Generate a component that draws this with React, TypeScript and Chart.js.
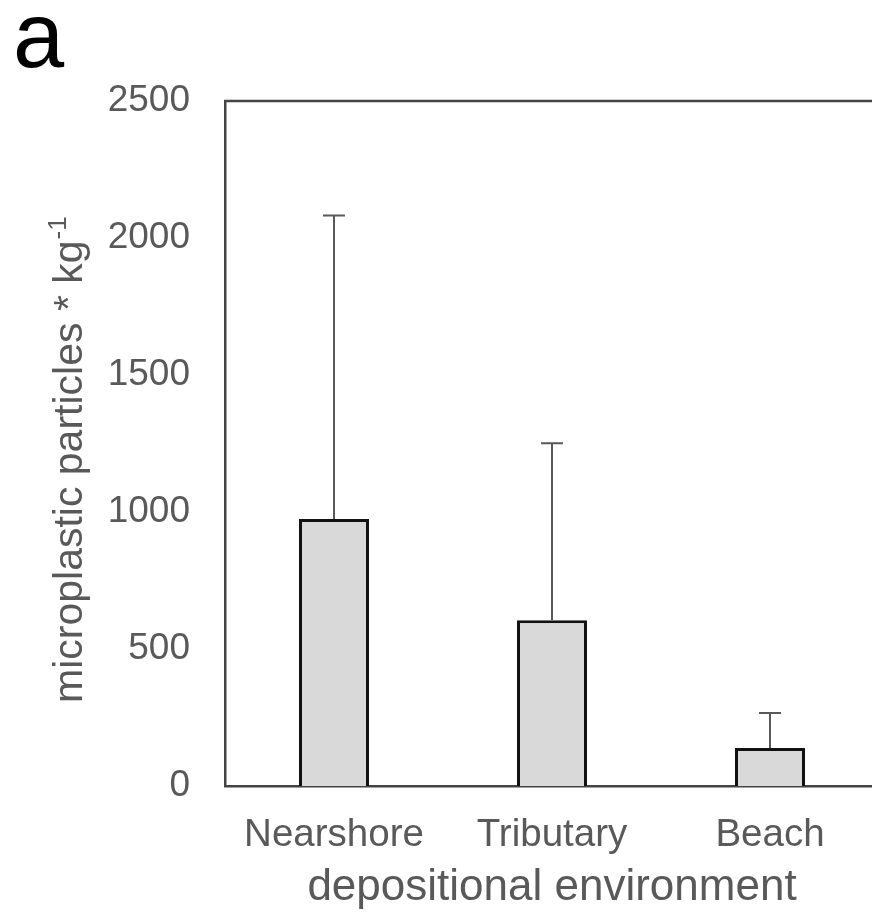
import React, { useEffect, useRef } from 'react';
import { Chart, registerables } from 'chart.js';

Chart.register(...registerables);

const categories = ['Nearshore', 'Tributary', 'Beach'];
const meanValues = [974, 605, 139];
const errorValues = [1108, 646, 127];
const yMin = 0;
const yMax = 2500;
const yStep = 500;
const panelLabel = 'a';
const xTitle = 'depositional environment';
const yTitleMain = 'microplastic particles * kg';
const yTitleSup = '-1';

const FONT = '"Liberation Sans", Arial, sans-serif';
const TEXT_GREY = '#595959';
const AXIS_GREY = '#444444';

const errorBarPlugin = {
  id: 'errorBars',
  afterDatasetsDraw(chart: any) {
    const meta = chart.getDatasetMeta(0);
    const ys = chart.scales.y;
    const ctx = chart.ctx;
    ctx.save();
    ctx.strokeStyle = TEXT_GREY;
    ctx.lineWidth = 2;
    meta.data.forEach((bar: any, i: number) => {
      const x = Math.round(bar.x);
      const y0 = ys.getPixelForValue(meanValues[i]);
      const y1 = ys.getPixelForValue(meanValues[i] + errorValues[i]);
      ctx.beginPath();
      ctx.moveTo(x, y0);
      ctx.lineTo(x, y1);
      ctx.moveTo(x - 11, y1);
      ctx.lineTo(x + 11, y1);
      ctx.stroke();
    });
    ctx.restore();
  },
};

const decorPlugin = {
  id: 'decor',
  afterDraw(chart: any) {
    const ctx = chart.ctx;
    const area = chart.chartArea;
    ctx.save();
    // top frame line
    ctx.strokeStyle = AXIS_GREY;
    ctx.lineWidth = 2.5;
    ctx.beginPath();
    ctx.moveTo(area.left - 1, area.top);
    ctx.lineTo(area.right, area.top);
    ctx.stroke();

    // panel label
    ctx.fillStyle = '#000';
    ctx.font = `92px ${FONT}`;
    ctx.textAlign = 'left';
    ctx.textBaseline = 'alphabetic';
    ctx.fillText(panelLabel, 13, 67);

    // x title
    ctx.fillStyle = TEXT_GREY;
    ctx.font = `44px ${FONT}`;
    ctx.textAlign = 'center';
    ctx.fillText(xTitle, (area.left + area.right) / 2, 900);

    // y title (rotated, with superscript)
    ctx.translate(82, 703);
    ctx.rotate(-Math.PI / 2);
    ctx.textAlign = 'left';
    ctx.font = `41px ${FONT}`;
    ctx.fillText(yTitleMain, 0, 0);
    const w = ctx.measureText(yTitleMain).width;
    ctx.font = `26px ${FONT}`;
    ctx.fillText(yTitleSup, w + 1, -16);
    ctx.restore();
  },
};

export default function App() {
  const canvasRef = useRef<HTMLCanvasElement | null>(null);

  useEffect(() => {
    const canvas = canvasRef.current;
    if (!canvas) return;
    const chart = new Chart(canvas, {
      type: 'bar',
      data: {
        labels: categories,
        datasets: [
          {
            data: meanValues,
            backgroundColor: '#d9d9d9',
            borderColor: '#111111',
            borderWidth: 3,
            categoryPercentage: 1,
            barPercentage: 0.321,
          },
        ],
      },
      options: {
        responsive: false,
        animation: false,
        devicePixelRatio: 1,
        layout: { padding: { top: 101, right: 1, bottom: 0, left: 0 } },
        plugins: {
          legend: { display: false },
          tooltip: { enabled: false },
        },
        scales: {
          x: {
            grid: { display: false, drawTicks: false },
            border: { display: true, color: AXIS_GREY, width: 2.5 },
            ticks: {
              color: TEXT_GREY,
              font: { family: FONT, size: 38.5 },
              padding: 26,
              maxRotation: 0,
              autoSkip: false,
            },
            afterFit: (s: any) => {
              s.height = 133;
            },
          },
          y: {
            min: yMin,
            max: yMax,
            grid: { display: false, drawTicks: false },
            border: { display: true, color: AXIS_GREY, width: 2.5 },
            ticks: {
              stepSize: yStep,
              color: TEXT_GREY,
              font: { family: FONT, size: 37 },
              padding: 35,
              callback: (v: any) => String(v),
            },
            afterFit: (s: any) => {
              s.width = 225;
            },
          },
        },
      },
      plugins: [errorBarPlugin, decorPlugin],
    });
    return () => chart.destroy();
  }, []);

  return (
    <div
      style={{
        position: 'absolute',
        left: 0,
        top: 0,
        width: 872,
        height: 919,
        overflow: 'hidden',
        background: '#ffffff',
      }}
    >
      <canvas
        ref={canvasRef}
        width={880}
        height={919}
        style={{ width: 880, height: 919, display: 'block' }}
      />
    </div>
  );
}
